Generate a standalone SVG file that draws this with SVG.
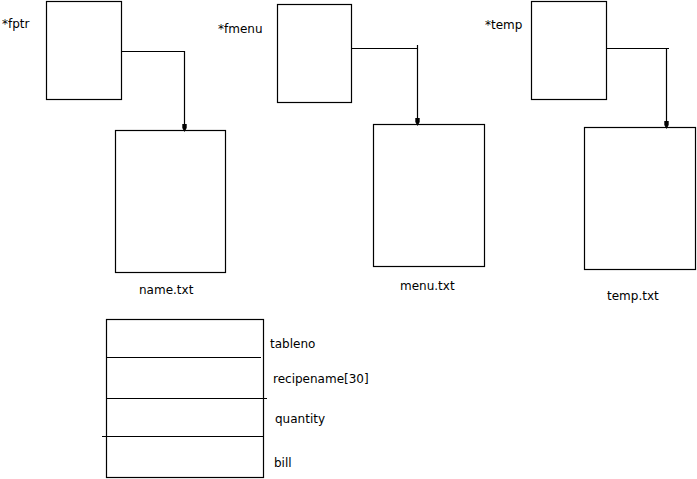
<svg xmlns="http://www.w3.org/2000/svg" width="697" height="479" viewBox="0 0 697 479">
<style>
.box{fill:none;stroke:#000;stroke-width:1.2}
.ln{fill:none;stroke:#000;stroke-width:1.2}
.head{fill:#000}
text{font-family:"DejaVu Sans","Liberation Sans",sans-serif;font-size:12px;fill:#000}
</style>
<defs>
<path id="ah" d="M-2.2,-8 H2.2 V-4 L0,0 L-2.2,-4 Z"/>
</defs>
<g id="fptr">
<rect class="box" x="46.5" y="1.5" width="75" height="98"/>
<text x="2" y="28">*fptr</text>
</g>
<g id="fmenu">
<rect class="box" x="277.5" y="4.5" width="74" height="98"/>
<text x="218" y="33">*fmenu</text>
</g>
<g id="temp">
<rect class="box" x="531.5" y="1.5" width="75" height="98"/>
<text x="485" y="29">*temp</text>
</g>
<g id="name_txt">
<rect class="box" x="115.5" y="130.5" width="110" height="142"/>
<text x="139" y="294">name.txt</text>
</g>
<g id="menu_txt">
<rect class="box" x="373.5" y="124.5" width="111" height="142"/>
<text x="400" y="290">menu.txt</text>
</g>
<g id="temp_txt">
<rect class="box" x="584.5" y="127.5" width="111" height="142"/>
<text x="607" y="300">temp.txt</text>
</g>
<g id="struct">
<rect class="box" x="106.5" y="319.5" width="157" height="158"/>
<line class="ln" x1="106" y1="357.5" x2="261" y2="357.5"/>
<line class="ln" x1="106" y1="398.5" x2="267" y2="398.5"/>
<line class="ln" x1="102" y1="436.5" x2="263" y2="436.5"/>
<text x="270" y="348">tableno</text>
<text x="273" y="383">recipename[30]</text>
<text x="275" y="423">quantity</text>
<text x="274" y="467">bill</text>
</g>
<g id="connectors">
<path class="ln" d="M121,51.5 H184.5 V125"/>
<use href="#ah" class="head" x="184.5" y="132"/>
<path class="ln" d="M352,48.5 H417.5 M417.5,45 V119"/>
<use href="#ah" class="head" x="417.5" y="126"/>
<path class="ln" d="M607,48.5 H669 M666.5,48 V122"/>
<use href="#ah" class="head" x="666.5" y="129"/>
</g>
</svg>
